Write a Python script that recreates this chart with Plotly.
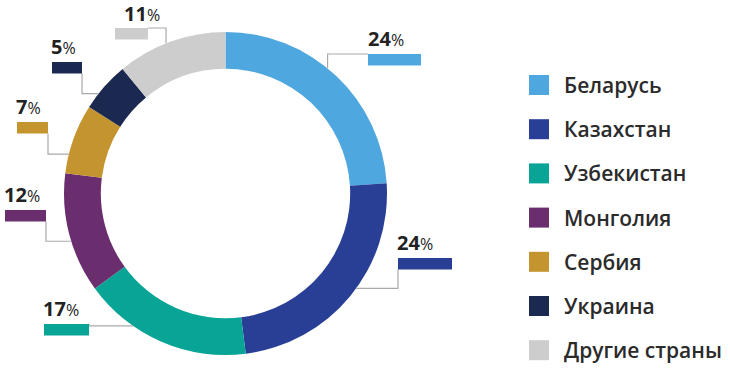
import math
import plotly.graph_objects as go

# ---- data ----
countries = ["Беларусь", "Казахстан", "Узбекистан", "Монголия", "Сербия", "Украина", "Другие страны"]
shares = [24, 24, 17, 12, 7, 5, 11]
colors = ["#4fa7df", "#283f95", "#08a597", "#6a2e6e", "#c4952f", "#1b2850", "#cdcdcd"]

# ---- layout helpers (pixel geometry of the canvas) ----
W, H = 730, 369
CX, CY, R = 225.5, 193.5, 161.5
HOLE = 0.772

# leader-line / label layout per slice
anchor_angle = [39.2, 126.0, 214.9, 252.8, 284.1, 308.2, 338.4]   # deg clockwise from top
bar_box = [(368, 54, 53), (398, 258, 54), (44, 324, 45), (5, 210, 41),
           (17, 122, 31), (52, 62, 30), (115, 28, 33)]             # left, top, width
BAR_H = 11.5
attach = [("left", "top"), ("left", "bottom"), ("right", "top"), ("right", "bottom"),
          ("right", "bottom"), ("right", "bottom"), ("right", "top")]
first_leg = ["v", "h", "h", "h", "h", "h", "v"]
label_dx = [1, 0, 0, 0, 0, 0, 10]
label_gap = [15.5, 15.5, 15.5, 15.5, 15.5, 15.5, 14.5]

LINE = "#a9a9a9"
TEXT = "#222222"


def px(x):
    return x / W


def py(y):
    return 1 - y / H


fig = go.Figure(go.Pie(
    labels=countries, values=shares, sort=False, direction="clockwise", rotation=0,
    hole=HOLE, textinfo="none", marker=dict(colors=colors, line=dict(width=0)),
    showlegend=False,
    domain=dict(x=[px(CX - R), px(CX + R)], y=[py(CY + R), py(CY - R)]),
))

shapes = []
annotations = []
for i, name in enumerate(countries):
    a = math.radians(anchor_angle[i])
    rx = CX + R * math.sin(a)
    ry = CY - R * math.cos(a)
    bx, by, bw = bar_box[i]
    ax = bx if attach[i][0] == "left" else bx + bw
    ay = by if attach[i][1] == "top" else by + BAR_H
    if first_leg[i] == "h":
        ex, ey = ax, ry
    else:
        ex, ey = rx, ay
    path = f"M {px(rx)} {py(ry)} L {px(ex)} {py(ey)} L {px(ax)} {py(ay)}"
    shapes.append(dict(type="path", path=path, xref="paper", yref="paper",
                       line=dict(color=LINE, width=1.2)))
    shapes.append(dict(type="rect", xref="paper", yref="paper",
                       x0=px(bx), x1=px(bx + bw), y0=py(by + BAR_H), y1=py(by),
                       fillcolor=colors[i], line=dict(width=0)))
    annotations.append(dict(
        x=px(bx + label_dx[i] - 2), y=py(by - label_gap[i]), xref="paper", yref="paper",
        xanchor="left", yanchor="middle", showarrow=False, borderpad=0,
        text=f"<b>{shares[i]}</b><span style='font-size:16px'>%</span>",
        font=dict(family="Open Sans", size=20, color=TEXT),
    ))

# legend (manual)
LEG_X, LEG_Y0, LEG_DY, SQ = 529, 85, 44.2, 20
for i, name in enumerate(countries):
    yc = LEG_Y0 + i * LEG_DY
    shapes.append(dict(type="rect", xref="paper", yref="paper",
                       x0=px(LEG_X), x1=px(LEG_X + SQ), y0=py(yc + SQ / 2), y1=py(yc - SQ / 2),
                       fillcolor=colors[i], line=dict(width=0)))
    annotations.append(dict(
        x=px(562), y=py(yc), xref="paper", yref="paper", xanchor="left", yanchor="middle",
        showarrow=False, text=name,
        font=dict(family="Open Sans", size=21, color="#2b2b2b", weight=600),
    ))

fig.update_layout(
    width=W, height=H, margin=dict(l=0, r=0, t=0, b=0),
    paper_bgcolor="white", plot_bgcolor="white",
    shapes=shapes, annotations=annotations,
)

fig.write_html("out.html", config={"displayModeBar": False},
               post_script="document.body.style.margin='0';")
